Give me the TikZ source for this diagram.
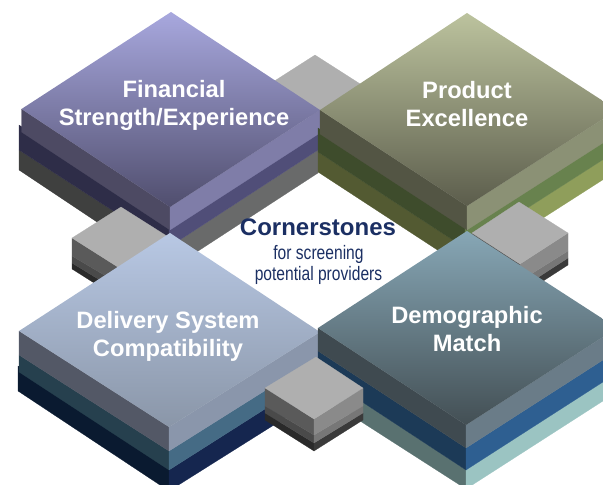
\documentclass[tikz,border=0pt]{standalone}
\usepackage{fontspec}
\setmainfont{Liberation Sans}
\newfontfamily\narrowfont[FakeStretch=0.8]{Liberation Sans}
\definecolor{navy}{HTML}{1B2F63}
\definecolor{blocktop}{HTML}{AFAFAF}
\definecolor{blockla}{HTML}{5A5A5A}
\definecolor{blocklb}{HTML}{4A4A4A}
\definecolor{blocklc}{HTML}{2A2A2A}
\definecolor{blockra}{HTML}{8A8A8A}
\definecolor{blockrb}{HTML}{777777}
\definecolor{blockrc}{HTML}{3A3A3A}
\definecolor{finface}{HTML}{A8A8DE}
\definecolor{finfaceb}{HTML}{504E6E}
\definecolor{finla}{HTML}{4D4A63}
\definecolor{finra}{HTML}{7F7DA8}
\definecolor{finlb}{HTML}{2E2D48}
\definecolor{finrb}{HTML}{504E78}
\definecolor{finlc}{HTML}{3F403F}
\definecolor{finrc}{HTML}{696A6A}
\definecolor{proface}{HTML}{BCC39E}
\definecolor{profaceb}{HTML}{5C5D4C}
\definecolor{prola}{HTML}{535544}
\definecolor{prora}{HTML}{8B9175}
\definecolor{prolb}{HTML}{3E4C2C}
\definecolor{prorb}{HTML}{68824E}
\definecolor{prolc}{HTML}{535A32}
\definecolor{prorc}{HTML}{8F9E5B}
\definecolor{delface}{HTML}{B8C8E4}
\definecolor{delfaceb}{HTML}{8A96A8}
\definecolor{della}{HTML}{535866}
\definecolor{delra}{HTML}{8A96AB}
\definecolor{dellb}{HTML}{26404E}
\definecolor{delrb}{HTML}{456B85}
\definecolor{dellc}{HTML}{0A1A30}
\definecolor{delrc}{HTML}{15264F}
\definecolor{demface}{HTML}{87A7B6}
\definecolor{demfaceb}{HTML}{434F54}
\definecolor{demla}{HTML}{3F4A50}
\definecolor{demra}{HTML}{6A7C88}
\definecolor{demlb}{HTML}{1C3A57}
\definecolor{demrb}{HTML}{2E5F91}
\definecolor{demlc}{HTML}{597170}
\definecolor{demrc}{HTML}{9BC4C2}
\tikzset{
    band/.style={fill=#1, draw=#1, line width=0.2pt},
    title/.style={white, font=\fontsize{23.7}{28}\selectfont\bfseries, align=center},
    subtitle/.style={navy, font=\fontsize{19.5}{21}\selectfont\narrowfont, align=center}
}

\begin{document}
\begin{tikzpicture}[x=1pt, y=-1pt]
        \useasboundingbox (0,0) rectangle (603,485);
        \clip (0,0) rectangle (603,485);

        %% Bloque de arriba
        \path[band=blocktop] (315,55) -- (265,87) -- (315,119) -- (365,87) -- cycle;

        %% Financial
        % Capas
        \path[band=finlc] (19,150) -- (169,247) -- (169,270) -- (19,170) -- cycle;
        \path[band=finrc] (169,247) -- (318,150) -- (318,173) -- (169,270) -- cycle;
        \path[band=finlb] (19,125) -- (169,223) -- (169,247) -- (19,150) -- cycle;
        \path[band=finrb] (169,223) -- (318,126) -- (318,150) -- (169,247) -- cycle;
        \path[band=finla] (21.5,109) -- (170,207) -- (170,230) -- (21.5,132) -- cycle;
        \path[band=finra] (170,207) -- (320,110) -- (320,133) -- (170,230) -- cycle;
        % Cara
        \shade[top color=finface, bottom color=finfaceb] (171,12) -- (21.5,109) -- (170,207) -- (320,110) -- cycle;

        %% Product
        % Capas
        \path[band=prolc] (318,152) -- (465,248) -- (465,268) -- (318,172) -- cycle;
        \path[band=prorc] (465,248) -- (615,152) -- (615,172) -- (465,268) -- cycle;
        \path[band=prolb] (318,128) -- (465,224) -- (465,248) -- (318,152) -- cycle;
        \path[band=prorb] (465,224) -- (615,128) -- (615,152) -- (465,248) -- cycle;
        \path[band=prola] (320,110) -- (467,206) -- (467,230) -- (320,134) -- cycle;
        \path[band=prora] (467,206) -- (617,110) -- (617,134) -- (467,230) -- cycle;
        % Cara
        \shade[top color=proface, bottom color=profaceb] (467,13) -- (320,110) -- (467,206) -- (617,110) -- cycle;

        %% Bloque izquierdo
        \path[band=blocklc] (72,263) -- (121,293) -- (121,300) -- (72,269) -- cycle;
        \path[band=blocklb] (72,256) -- (121,285) -- (121,293) -- (72,263) -- cycle;
        \path[band=blockla] (72,238) -- (121,269) -- (121,285) -- (72,256) -- cycle;
        \path[band=blocktop] (121,207) -- (72,238) -- (121,269) -- (170,238) -- cycle;

        %% Bloque derecho
        \path[band=blockla] (472,233) -- (520,264) -- (520,281) -- (472,251) -- cycle;
        \path[band=blockrc] (520,289) -- (568,258) -- (568,265) -- (520,296) -- cycle;
        \path[band=blockrb] (520,281) -- (568,251) -- (568,258) -- (520,289) -- cycle;
        \path[band=blockra] (520,264) -- (568,233) -- (568,251) -- (520,281) -- cycle;
        \path[band=blocktop] (519,202) -- (472,233) -- (520,264) -- (568,233) -- cycle;

        %% Delivery
        % Capas
        \path[band=dellc] (18,366) -- (169,462) -- (169,491) -- (18,391) -- cycle;
        \path[band=delrc] (169,470) -- (320,374) -- (320,396) -- (169,491) -- cycle;
        \path[band=dellb] (19,355) -- (169,451) -- (169,470) -- (19,372) -- cycle;
        \path[band=delrb] (169,451) -- (320,356) -- (320,374) -- (169,470) -- cycle;
        \path[band=della] (19,331) -- (169,427) -- (169,451) -- (19,355) -- cycle;
        \path[band=delra] (169,427) -- (320,332) -- (320,356) -- (169,451) -- cycle;
        % Cara
        \shade[top color=delface, bottom color=delfaceb] (170,233) -- (19,331) -- (169,427) -- (320,332) -- cycle;

        %% Demographic
        % Capas
        \path[band=demlc] (318,373) -- (466,470) -- (466,489) -- (318,394) -- cycle;
        \path[band=demrc] (466,470) -- (617,373) -- (617,392) -- (466,489) -- cycle;
        \path[band=demlb] (318,351) -- (466,448) -- (466,470) -- (318,373) -- cycle;
        \path[band=demrb] (466,448) -- (617,351) -- (617,373) -- (466,470) -- cycle;
        \path[band=demla] (318,328) -- (466,425) -- (466,448) -- (318,351) -- cycle;
        \path[band=demra] (466,425) -- (617,328) -- (617,351) -- (466,448) -- cycle;
        % Cara
        \shade[top color=demface, bottom color=demfaceb] (467,231) -- (318,328) -- (466,425) -- (617,328) -- cycle;

        %% Bloque de abajo
        \path[band=blocklc] (265,413) -- (314,443) -- (314,451) -- (265,420) -- cycle;
        \path[band=blockrc] (314,443) -- (363,413) -- (363,420) -- (314,451) -- cycle;
        \path[band=blocklb] (265,406) -- (314,435) -- (314,443) -- (265,413) -- cycle;
        \path[band=blockrb] (314,435) -- (363,406) -- (363,413) -- (314,443) -- cycle;
        \path[band=blockla] (265,388) -- (314,419) -- (314,435) -- (265,406) -- cycle;
        \path[band=blockra] (314,419) -- (363,388) -- (363,406) -- (314,435) -- cycle;
        \path[band=blocktop] (316,357) -- (265,388) -- (314,419) -- (363,388) -- cycle;

        %% Textos
        \node[title] (financial) at (174,105.5) {Financial\\Strength/Experience};
        \node[title] (product) at (467,104.5) {Product\\Excellence};
        \node[title] (delivery) at (168,336) {Delivery System\\Compatibility};
        \node[title] (demographic) at (467,329) {Demographic\\Match};
        \node[navy, font=\fontsize{24}{28}\selectfont\bfseries] (cornerstones) at (318,227) {Cornerstones};
        \node[subtitle] (screening) at (318.5,265) {for screening\\potential providers};
    \end{tikzpicture}
\end{document}
